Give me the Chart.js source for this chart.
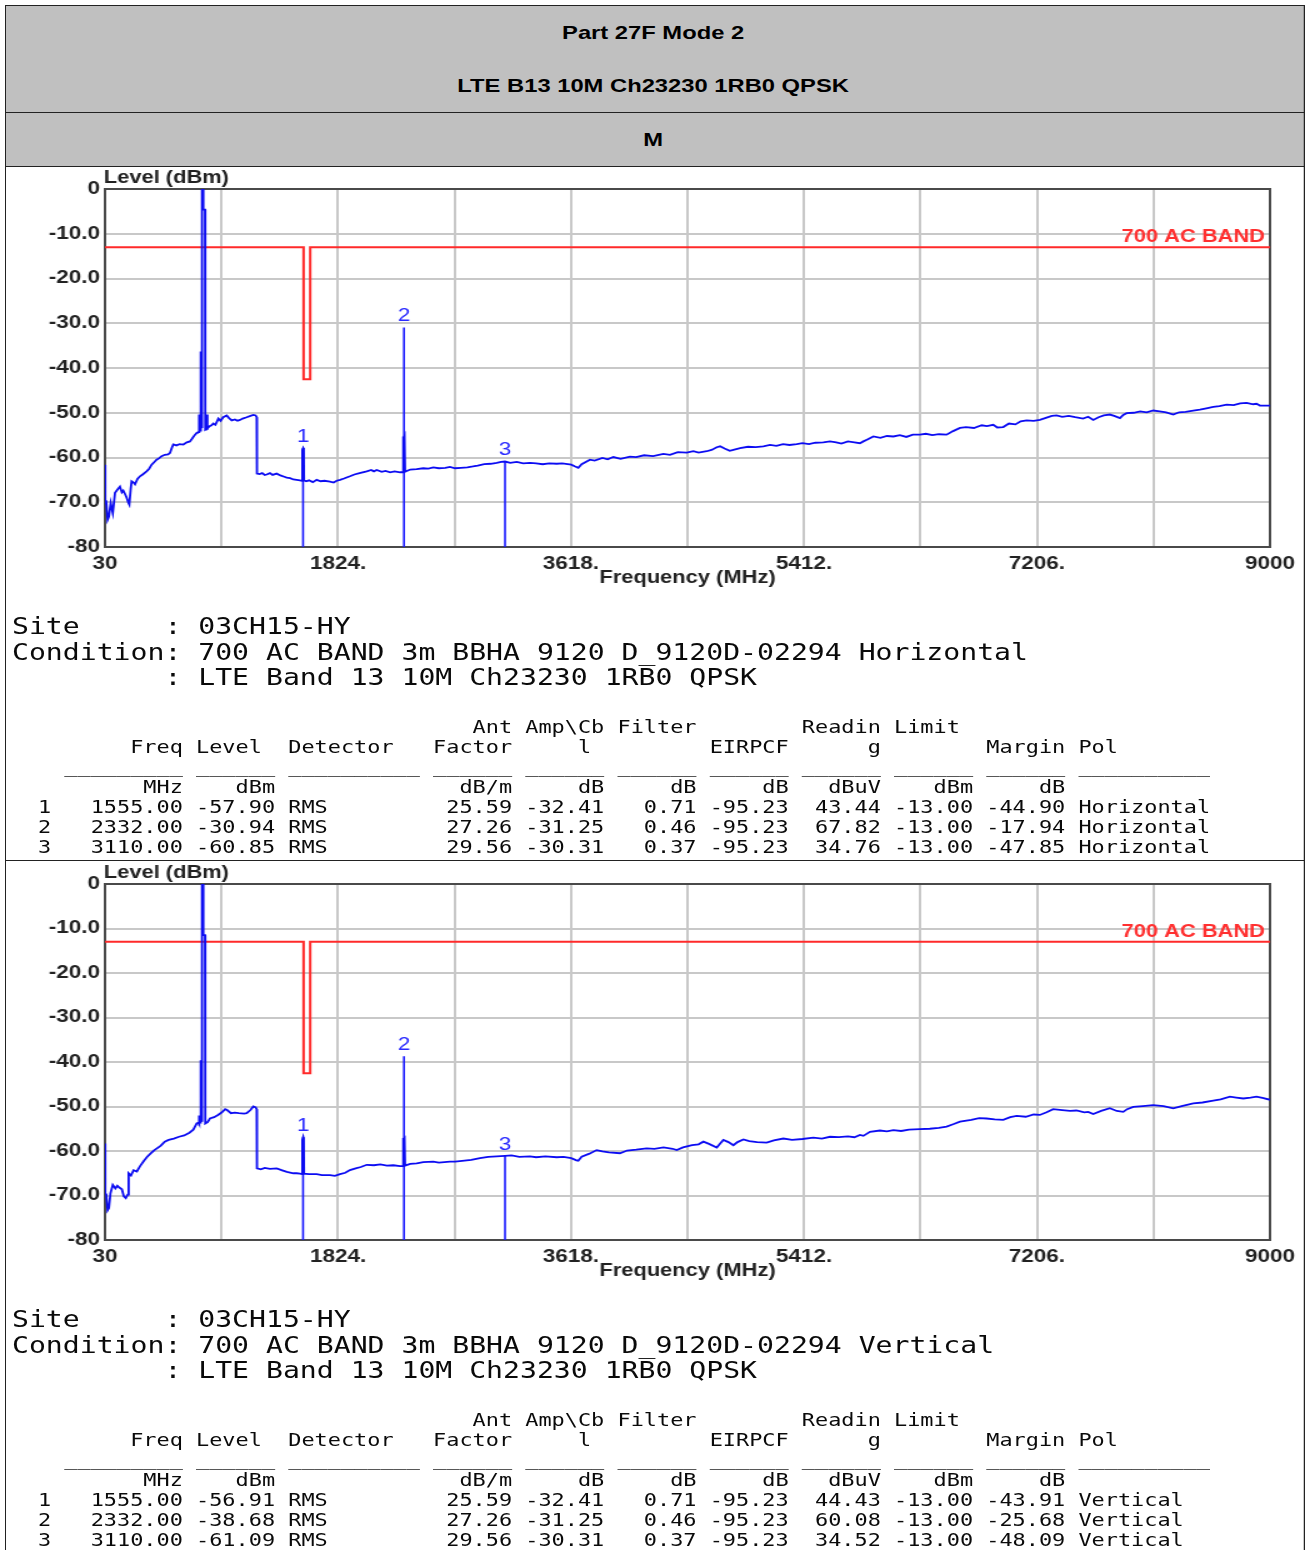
<!DOCTYPE html>
<html>
<head>
<meta charset="utf-8">
<script src="https://cdn.jsdelivr.net/npm/chart.js@4.4.1/dist/chart.umd.min.js"></script>
<style>
html, body { margin: 0; padding: 0; background: #fff; }
body { width: 1306px; height: 1550px; overflow: hidden; position: relative; }
/* the whole report is drawn 1.25x wider than tall, like the scan */
#page { position: absolute; left: 0; top: 0; width: 1045px; height: 1550px; transform: scaleX(1.25); transform-origin: 0 0; }
.hdr { position: absolute; left: 4px; width: 1040px; background: #c0c0c0; }
.htxt { position: absolute; left: 0; width: 1045px; text-align: center; font: bold 19px "Liberation Sans", Arial, sans-serif; line-height: 20px; color: #000; }
.sec { position: absolute; left: 0; width: 1045px; overflow: hidden; }
.box { position: absolute; left: 0; top: 0; width: 1045px; height: 434px; }
.info { position: absolute; left: 9.6px; font: 22.5px "DejaVu Sans Mono", monospace; line-height: 25.5px; white-space: pre; color: #0a0a0a; }
.tbl { position: absolute; left: 30.4px; font: 17.5px "DejaVu Sans Mono", monospace; line-height: 20px; white-space: pre; color: #0a0a0a; overflow: hidden; }
.ln { position: absolute; background: #222; }
</style>
</head>
<body>
<div id="page">
  <div class="hdr" style="top:5px;height:107px"></div>
  <div class="hdr" style="top:112px;height:54px"></div>
  <div class="htxt" style="top:23px">Part 27F Mode 2</div>
  <div class="htxt" style="top:76px">LTE B13 10M Ch23230 1RB0 QPSK</div>
  <div class="htxt" style="top:130px">M</div>

  <div class="sec" style="top:166px;height:694px">
    <div class="box"><canvas id="chartH" width="1045" height="434"></canvas></div>
    <div class="info" id="infoH" style="top:448px"></div>
    <div class="tbl" id="tblH" style="top:551px;height:138px"></div>
  </div>
  <div class="sec" style="top:860px;height:690px">
    <div class="box"><canvas id="chartV" width="1045" height="434"></canvas></div>
    <div class="info" id="infoV" style="top:447px"></div>
    <div class="tbl" id="tblV" style="top:550px;height:138px"></div>
  </div>

  <div class="ln" style="left:4px;top:5px;width:1040px;height:1px"></div>
  <div class="ln" style="left:4px;top:112px;width:1040px;height:1px"></div>
  <div class="ln" style="left:4px;top:166px;width:1040px;height:1px"></div>
  <div class="ln" style="left:4px;top:860px;width:1040px;height:1px"></div>
  <div class="ln" style="left:4px;top:5px;width:1px;height:1545px"></div>
  <div class="ln" style="left:1043px;top:5px;width:1px;height:1545px"></div>
</div>

<script>
// axes
const xTicks = [30, 927, 1824, 2721, 3618, 4515, 5412, 6309, 7206, 8103, 9000];
const xTickLabels = ['30', '', '1824.', '', '3618.', '', '5412.', '', '7206.', '', '9000'];
const yTicks = [0, -10, -20, -30, -40, -50, -60, -70, -80];
const yTickLabels = ['0', '-10.0', '-20.0', '-30.0', '-40.0', '-50.0', '-60.0', '-70.0', '-80'];

// limit line (700 AC BAND) with the GPS notch
const limitFreq = [30, 1559, 1559, 1610, 1610, 9000];
const limitLevel = [-13, -13, -42.5, -42.5, -13, -13];

// markers
const markerFreq = [1555, 2332, 3110];
const markerLevelH = [-57.90, -30.94, -60.85];
const markerLevelV = [-56.91, -38.68, -61.09];

// horizontal scan [MHz, dBm]
const traceH = [
  [30,-61.6],[32,-70.2],[40,-70.0],[50,-73.9],[60,-73.2],[74,-70.2],[90,-72.4],[107,-67.9],[125,-67.2],[145,-66.5],
  [160,-67.8],[171,-67.4],[185,-68.2],[197,-69.0],[210,-70.1],[217,-70.5],[228,-67.0],[235,-65.3],[250,-65.6],[261,-66.0],
  [280,-64.8],[299,-64.2],[320,-63.8],[350,-63.1],[370,-62.5],[389,-61.6],[410,-61.0],[427,-60.5],[445,-60.2],[466,-59.7],
  [490,-59.4],[515,-59.3],[530,-59.0],[545,-57.8],[556,-57.1],[580,-57.3],[605,-57.0],[633,-57.1],[660,-56.6],[684,-56.4],
  [700,-55.8],[720,-55.0],[736,-54.5],[752,-54.3],[754,-50.4],[756,-54.2],[762,-54.0],[763,-36.3],[769,-36.3],[770,-53.5],
  [776,-53.2],[777,0],[786,0],[787,-4.6],[800,-4.6],[802,-53.8],[815,-53.6],[817,-50.4],[819,-53.5],[835,-53.0],
  [850,-52.8],[864,-52.4],[880,-52.7],[903,-51.3],[920,-51.8],[940,-51.0],[967,-50.6],[985,-51.2],[1006,-51.7],[1030,-51.5],
  [1050,-51.8],[1069,-51.6],[1090,-51.3],[1121,-51.0],[1150,-50.7],[1172,-50.5],[1190,-50.6],[1198,-51.0],[1200,-63.6],[1220,-63.7],
  [1240,-63.5],[1260,-63.9],[1275,-63.8],[1300,-63.5],[1320,-63.9],[1352,-63.6],[1380,-64.0],[1410,-64.3],[1429,-64.5],[1455,-64.6],
  [1480,-64.9],[1506,-65.0],[1530,-65.1],[1548,-65.2],[1550,-58.3],[1556,-57.9],[1560,-58.2],[1562,-65.1],[1580,-65.3],[1600,-65.1],
  [1630,-65.5],[1660,-65.0],[1690,-65.3],[1720,-65.2],[1762,-65.4],[1790,-65.6],[1814,-65.2],[1840,-65.0],[1870,-64.7],[1916,-64.2],
  [1950,-63.8],[1990,-63.5],[2045,-63.1],[2080,-62.8],[2100,-63.1],[2122,-62.8],[2160,-63.2],[2190,-63.0],[2225,-63.3],[2260,-63.1],
  [2302,-63.3],[2322,-63.3],[2324,-55.3],[2330,-56.0],[2336,-55.3],[2340,-63.2],[2380,-62.7],[2430,-62.6],[2480,-62.4],[2520,-62.5],
  [2558,-62.2],[2600,-62.4],[2650,-62.3],[2686,-62.1],[2725,-62.4],[2770,-62.3],[2820,-62.2],[2863,-62.0],[2900,-61.8],[2950,-61.5],
  [3000,-61.4],[3046,-61.2],[3080,-61.0],[3110,-60.9],[3150,-61.2],[3200,-61.0],[3250,-61.3],[3302,-61.2],[3350,-61.3],[3400,-61.5],
  [3450,-61.3],[3508,-61.4],[3550,-61.3],[3620,-61.6],[3650,-62.0],[3674,-62.3],[3700,-61.5],[3764,-60.5],[3800,-60.7],[3860,-60.1],
  [3900,-60.4],[3944,-59.9],[4000,-60.3],[4072,-59.8],[4120,-59.9],[4180,-59.5],[4250,-59.7],[4329,-59.2],[4380,-59.4],[4440,-58.8],
  [4509,-58.9],[4560,-58.6],[4600,-58.9],[4663,-58.6],[4700,-58.3],[4740,-57.7],[4766,-57.5],[4800,-58.0],[4840,-58.5],[4868,-58.3],
  [4920,-57.9],[4980,-57.6],[5040,-57.7],[5099,-57.5],[5150,-57.2],[5200,-57.4],[5250,-57.0],[5300,-57.2],[5356,-57.0],[5400,-56.8],
  [5450,-57.0],[5500,-56.7],[5560,-56.6],[5612,-56.4],[5660,-56.6],[5700,-56.9],[5750,-56.4],[5800,-56.6],[5843,-56.8],[5869,-56.4],
  [5900,-56.0],[5946,-55.3],[6000,-55.6],[6050,-55.2],[6100,-55.3],[6150,-55.0],[6200,-55.4],[6250,-54.9],[6305,-54.9],[6350,-54.7],
  [6400,-55.0],[6450,-54.8],[6510,-54.9],[6560,-54.1],[6613,-53.4],[6660,-53.2],[6720,-53.4],[6780,-52.8],[6820,-53.0],[6869,-52.7],
  [6900,-53.3],[6946,-53.2],[6990,-52.4],[7040,-52.6],[7080,-51.9],[7126,-51.7],[7180,-51.8],[7228,-51.6],[7280,-51.1],[7320,-50.7],
  [7357,-50.6],[7400,-50.9],[7450,-50.7],[7500,-51.0],[7560,-51.3],[7600,-50.9],[7639,-51.6],[7680,-51.0],[7720,-50.6],[7767,-50.4],
  [7800,-50.7],[7845,-51.2],[7870,-50.5],[7896,-50.1],[7950,-50.0],[8000,-49.7],[8050,-49.9],[8101,-49.5],[8150,-49.7],[8200,-49.9],
  [8255,-50.4],[8300,-49.9],[8350,-49.8],[8409,-49.5],[8460,-49.3],[8510,-49.0],[8563,-48.7],[8610,-48.5],[8666,-48.2],[8720,-48.3],
  [8770,-47.9],[8820,-47.8],[8870,-48.1],[8896,-48.0],[8922,-48.4],[8960,-48.4],[9000,-48.4]
];

// vertical scan [MHz, dBm]
const traceV = [
  [30,-58.3],[32,-69.5],[40,-69.8],[50,-73.3],[60,-72.8],[72,-69.5],[90,-67.6],[110,-68.4],[125,-67.8],[140,-68.2],
  [160,-68.6],[175,-70.2],[190,-70.6],[205,-69.8],[212,-65.0],[230,-65.5],[250,-64.3],[275,-64.6],[300,-63.4],[330,-62.2],
  [355,-61.3],[380,-60.6],[410,-59.8],[430,-59.4],[460,-58.8],[490,-57.9],[520,-57.5],[560,-57.2],[600,-56.8],[640,-56.5],
  [680,-55.9],[710,-55.2],[736,-53.8],[752,-53.6],[754,-52.0],[756,-53.8],[762,-53.6],[763,-39.6],[769,-39.6],[770,-53.4],
  [776,-53.2],[777,0],[786,0],[787,-11.5],[800,-11.5],[802,-53.8],[820,-53.5],[838,-52.7],[870,-52.4],[900,-51.9],
  [930,-51.3],[955,-50.6],[970,-50.8],[1000,-51.5],[1030,-51.4],[1060,-51.5],[1100,-51.6],[1121,-51.5],[1150,-50.8],[1172,-50.0],
  [1190,-50.2],[1198,-50.6],[1200,-63.9],[1230,-64.1],[1260,-63.8],[1300,-64.0],[1352,-63.9],[1400,-64.4],[1430,-64.7],[1480,-65.0],
  [1506,-65.0],[1530,-65.1],[1548,-65.2],[1550,-57.5],[1556,-56.9],[1560,-57.4],[1562,-65.1],[1600,-65.2],[1660,-65.2],[1700,-65.4],
  [1762,-65.4],[1800,-65.6],[1840,-65.2],[1880,-64.9],[1916,-64.3],[1960,-63.9],[2000,-63.6],[2045,-63.1],[2100,-63.2],[2150,-63.0],
  [2200,-63.3],[2250,-63.2],[2302,-63.4],[2322,-63.4],[2324,-57.1],[2330,-57.4],[2336,-57.1],[2340,-63.3],[2380,-62.9],[2430,-62.8],
  [2480,-62.5],[2558,-62.4],[2600,-62.6],[2686,-62.4],[2725,-62.4],[2780,-62.2],[2850,-62.0],[2917,-61.6],[2980,-61.3],[3046,-61.2],
  [3110,-61.1],[3160,-61.0],[3220,-61.3],[3302,-61.2],[3350,-61.4],[3420,-61.2],[3508,-61.4],[3560,-61.3],[3620,-61.6],[3660,-62.1],
  [3674,-62.2],[3700,-61.3],[3760,-60.6],[3815,-59.8],[3860,-60.1],[3910,-60.3],[3995,-60.5],[4050,-59.9],[4120,-59.7],[4200,-59.4],
  [4260,-59.5],[4330,-59.2],[4400,-59.5],[4432,-59.8],[4480,-59.2],[4550,-58.7],[4600,-58.5],[4637,-57.9],[4680,-58.4],[4740,-59.2],
  [4770,-58.2],[4791,-57.5],[4830,-58.0],[4868,-58.7],[4900,-58.0],[4945,-57.4],[4990,-57.8],[5050,-58.0],[5125,-58.1],[5180,-57.6],
  [5253,-57.2],[5320,-57.5],[5400,-57.3],[5484,-57.0],[5550,-57.2],[5612,-56.8],[5680,-56.9],[5750,-56.7],[5800,-56.9],[5843,-56.4],
  [5869,-56.6],[5920,-55.7],[5997,-55.4],[6050,-55.6],[6100,-55.3],[6160,-55.5],[6220,-55.2],[6305,-55.1],[6380,-55.0],[6450,-54.8],
  [6510,-54.5],[6560,-54.0],[6613,-53.4],[6700,-53.0],[6760,-52.6],[6818,-52.7],[6880,-52.9],[6946,-53.0],[7000,-52.4],[7049,-52.1],
  [7120,-52.3],[7180,-51.8],[7228,-51.9],[7280,-51.3],[7330,-50.6],[7400,-50.8],[7460,-51.0],[7510,-50.9],[7570,-51.3],[7600,-51.2],
  [7639,-51.7],[7700,-51.0],[7767,-50.4],[7820,-51.0],[7870,-51.2],[7900,-50.6],[7947,-50.1],[8020,-49.9],[8101,-49.7],[8180,-49.9],
  [8255,-50.4],[8320,-49.9],[8409,-49.3],[8480,-49.1],[8563,-48.7],[8620,-48.4],[8691,-47.8],[8740,-48.0],[8794,-48.2],[8850,-48.0],
  [8896,-47.8],[8950,-48.1],[9000,-48.5]
];

// result tables
const rowsH = [
  ['1', '1555.00', '-57.90', 'RMS', '25.59', '-32.41', '0.71', '-95.23', '43.44', '-13.00', '-44.90', 'Horizontal'],
  ['2', '2332.00', '-30.94', 'RMS', '27.26', '-31.25', '0.46', '-95.23', '67.82', '-13.00', '-17.94', 'Horizontal'],
  ['3', '3110.00', '-60.85', 'RMS', '29.56', '-30.31', '0.37', '-95.23', '34.76', '-13.00', '-47.85', 'Horizontal']
];
const rowsV = [
  ['1', '1555.00', '-56.91', 'RMS', '25.59', '-32.41', '0.71', '-95.23', '44.43', '-13.00', '-43.91', 'Vertical'],
  ['2', '2332.00', '-38.68', 'RMS', '27.26', '-31.25', '0.46', '-95.23', '60.08', '-13.00', '-25.68', 'Vertical'],
  ['3', '3110.00', '-61.09', 'RMS', '29.56', '-30.31', '0.37', '-95.23', '34.52', '-13.00', '-48.09', 'Vertical']
];

const FONT = '"Liberation Sans", Arial, sans-serif';

function put(s, txt, i) {
  while (s.length < i) s += ' ';
  return s.slice(0, i) + txt + s.slice(i + txt.length);
}

function tableText(rows) {
  let a = '', b = '', c = '', d = '';
  a = put(a, 'Ant', 33); a = put(a, 'Amp\\Cb', 37); a = put(a, 'Filter', 44); a = put(a, 'Readin', 58); a = put(a, 'Limit', 65);
  b = put(b, 'Freq', 7); b = put(b, 'Level', 12); b = put(b, 'Detector', 19); b = put(b, 'Factor', 30); b = put(b, 'l', 41);
  b = put(b, 'EIRPCF', 51); b = put(b, 'g', 63); b = put(b, 'Margin', 72); b = put(b, 'Pol', 79);
  [[2, 10], [12, 17], [19, 28], [30, 35], [37, 42], [44, 49], [51, 56], [58, 63], [65, 70], [72, 77], [79, 88]]
    .forEach(([s, e]) => { c = put(c, '_'.repeat(e - s + 1), s); });
  d = put(d, 'MHz', 8); d = put(d, 'dBm', 15); d = put(d, 'dB/m', 32); d = put(d, 'dB', 41); d = put(d, 'dB', 48);
  d = put(d, 'dB', 55); d = put(d, 'dBuV', 60); d = put(d, 'dBm', 68); d = put(d, 'dB', 76);
  const lines = [a, b, c, d];
  rows.forEach(r => {
    lines.push(r[0] + r[1].padStart(10) + ' ' + r[2].padStart(6) + ' ' + r[3].padEnd(10) + ' ' + r[4].padStart(6) + ' ' +
      r[5].padStart(6) + ' ' + r[6].padStart(6) + ' ' + r[7].padStart(6) + ' ' + r[8].padStart(6) + ' ' +
      r[9].padStart(6) + ' ' + r[10].padStart(6) + ' ' + r[11]);
  });
  return lines.join('\n');
}

function infoText(pol) {
  return 'Site     : 03CH15-HY\n' +
    'Condition: 700 AC BAND 3m BBHA 9120 D_9120D-02294 ' + pol + '\n' +
    '         : LTE Band 13 10M Ch23230 1RB0 QPSK';
}

document.getElementById('infoH').textContent = infoText('Horizontal');
document.getElementById('infoV').textContent = infoText('Vertical');
document.getElementById('tblH').textContent = tableText(rowsH);
document.getElementById('tblV').textContent = tableText(rowsV);

function buildChart(id, trace, markerLevel, padTop, axisH) {
  const decor = {
    id: 'decor',
    beforeDatasetsDraw(chart) {
      const a = chart.chartArea, ctx = chart.ctx;
      ctx.save();
      ctx.strokeStyle = '#4a4a4a';
      ctx.lineWidth = 2;
      ctx.strokeRect(a.left, a.top, a.right - a.left, a.bottom - a.top);
      ctx.restore();
    },
    afterDatasetsDraw(chart) {
      const a = chart.chartArea, ctx = chart.ctx;
      const xs = chart.scales.x, ys = chart.scales.y;
      ctx.save();
      // marker numbers
      ctx.font = '18px ' + FONT;
      ctx.fillStyle = '#2a2aff';
      ctx.textAlign = 'center';
      ctx.textBaseline = 'middle';
      markerFreq.forEach((f, i) => {
        ctx.fillText(String(i + 1), xs.getPixelForValue(f), ys.getPixelForValue(markerLevel[i]) - 11);
      });
      // limit name
      ctx.font = 'bold 17.5px ' + FONT;
      ctx.fillStyle = '#ff3030';
      ctx.textAlign = 'right';
      ctx.fillText('700 AC BAND', a.right - 4, ys.getPixelForValue(-13) - 10);
      // axis titles
      ctx.fillStyle = '#222';
      ctx.textAlign = 'left';
      ctx.fillText('Level (dBm)', a.left - 1, a.top - 11);
      ctx.textAlign = 'center';
      ctx.fillText('Frequency (MHz)', (a.left + a.right) / 2, a.bottom + 31);
      ctx.restore();
    }
  };

  const datasets = [
    {
      data: trace.map(([x, y]) => ({ x, y })),
      borderColor: '#0c0cf2', borderWidth: 1.8, pointRadius: 0, showLine: true
    }
  ];
  markerFreq.forEach((f, i) => {
    datasets.push({
      data: [{ x: f, y: -80 }, { x: f, y: markerLevel[i] }],
      borderColor: '#1a1aff', borderWidth: 1.6, pointRadius: 0, showLine: true
    });
  });
  datasets.push({
    data: limitFreq.map((x, i) => ({ x, y: limitLevel[i] })),
    borderColor: '#ff2a2a', borderWidth: 2, pointRadius: 0, showLine: true
  });

  new Chart(document.getElementById(id), {
    type: 'scatter',
    data: { datasets },
    options: {
      responsive: false,
      animation: false,
      devicePixelRatio: 1,
      layout: { padding: { top: padTop, right: 29, left: 0, bottom: 0 } },
      plugins: { legend: { display: false }, tooltip: { enabled: false } },
      scales: {
        x: {
          type: 'linear', min: 30, max: 9000,
          afterBuildTicks: s => { s.ticks = xTicks.map(v => ({ value: v })); },
          afterFit: s => { s.height = axisH; },
          grid: { color: '#c8c8c8', lineWidth: 2, drawTicks: false },
          border: { color: '#4a4a4a', width: 2 },
          ticks: {
            padding: 6, autoSkip: false, maxRotation: 0, color: '#222',
            font: { family: FONT, size: 18, weight: 'bold' },
            callback: (v, i) => xTickLabels[i]
          }
        },
        y: {
          type: 'linear', min: -80, max: 0,
          afterBuildTicks: s => { s.ticks = yTicks.map(v => ({ value: v })); },
          afterFit: s => { s.width = 84; },
          grid: { color: '#c8c8c8', lineWidth: 2, drawTicks: false },
          border: { color: '#4a4a4a', width: 2 },
          ticks: {
            padding: 4, color: '#222',
            font: { family: FONT, size: 18, weight: 'bold' },
            callback: v => yTickLabels[yTicks.indexOf(v)]
          }
        }
      }
    },
    plugins: [decor]
  });
}

buildChart('chartH', traceH, markerLevelH, 23, 53);
buildChart('chartV', traceV, markerLevelV, 24, 54);
</script>
</body>
</html>
